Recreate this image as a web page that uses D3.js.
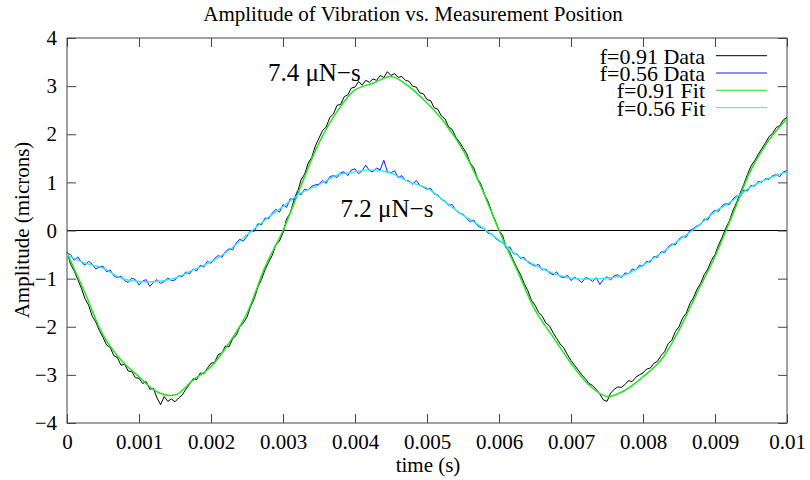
<!DOCTYPE html>
<html>
<head>
<meta charset="utf-8">
<script src="https://cdn.jsdelivr.net/npm/d3@7"></script>
<style>
  body { margin: 0; background: #fff; }
  text { font-family: "Liberation Serif", "Times New Roman", serif; fill: #000; }
</style>
</head>
<body>
<div id="chart"></div>
<script>
// measured samples, every 0.00005 s
var dataStep = 0.00005;
var data91 = [
  -0.45, -0.70, -0.84, -1.02, -1.20, -1.42, -1.55, -1.78, -1.90, -2.08,
  -2.22, -2.38, -2.43, -2.60, -2.64, -2.80, -2.78, -2.92, -2.93, -3.06,
  -3.07, -3.18, -3.14, -3.30, -3.28, -3.48, -3.62, -3.45, -3.55, -3.50,
  -3.56, -3.48, -3.42, -3.30, -3.20, -3.08, -3.10, -2.96, -2.98, -2.86,
  -2.76, -2.74, -2.58, -2.55, -2.40, -2.42, -2.25, -2.18, -2.00, -1.92,
  -1.80, -1.58, -1.42, -1.18, -1.02, -0.82, -0.66, -0.52, -0.30, -0.22,
  -0.05, 0.24, 0.36, 0.62, 0.78, 1.05, 1.17, 1.40, 1.52, 1.76,
  1.92, 2.08, 2.15, 2.35, 2.42, 2.60, 2.62, 2.78, 2.82, 2.96,
  2.98, 3.10, 3.02, 3.12, 3.08, 3.15, 3.12, 3.22, 3.18, 3.30,
  3.22, 3.26, 3.18, 3.20, 3.12, 3.10, 3.00, 2.98, 2.86, 2.84,
  2.72, 2.70, 2.55, 2.52, 2.38, 2.32, 2.15, 2.10, 1.94, 1.84,
  1.72, 1.60, 1.40, 1.30, 1.08, 0.96, 0.74, 0.60, 0.38, 0.20,
  0.00, -0.10, -0.36, -0.45, -0.62, -0.78, -0.92, -1.10, -1.25, -1.45,
  -1.55, -1.70, -1.78, -1.92, -1.98, -2.12, -2.24, -2.36, -2.44, -2.58,
  -2.70, -2.80, -2.90, -3.00, -3.08, -3.18, -3.22, -3.30, -3.40, -3.52,
  -3.55, -3.38, -3.30, -3.25, -3.26, -3.20, -3.12, -3.14, -3.05, -3.00,
  -2.96, -2.88, -2.86, -2.76, -2.72, -2.60, -2.52, -2.35, -2.28, -2.10,
  -2.00, -1.82, -1.72, -1.52, -1.40, -1.22, -1.10, -0.92, -0.80, -0.62,
  -0.50, -0.30, -0.14, 0.05, 0.20, 0.42, 0.58, 0.78, 0.96, 1.16,
  1.34, 1.45, 1.58, 1.70, 1.82, 1.95, 2.02, 2.14, 2.18, 2.30,
  2.35
];
var data56 = [
  -0.47, -0.50, -0.62, -0.55, -0.66, -0.72, -0.64, -0.70, -0.80, -0.76,
  -0.74, -0.86, -0.82, -0.94, -0.98, -0.95, -1.04, -1.08, -0.99, -1.02,
  -1.13, -1.05, -1.02, -1.16, -1.08, -1.02, -1.10, -1.06, -0.99, -1.04,
  -1.03, -0.94, -0.96, -0.86, -0.90, -0.80, -0.84, -0.72, -0.76, -0.64,
  -0.68, -0.58, -0.52, -0.56, -0.44, -0.38, -0.40, -0.26, -0.18, -0.22,
  -0.12, 0.00, -0.02, 0.14, 0.12, 0.26, 0.24, 0.36, 0.44, 0.38,
  0.54, 0.48, 0.66, 0.64, 0.82, 0.74, 0.86, 0.84, 0.92, 0.95,
  0.96, 1.04, 0.98, 1.12, 1.14, 1.10, 1.20, 1.22, 1.14, 1.26,
  1.28, 1.18, 1.24, 1.36, 1.24, 1.22, 1.30, 1.26, 1.46, 1.22,
  1.20, 1.24, 1.10, 1.14, 1.04, 1.03, 0.96, 1.04, 0.94, 0.90,
  0.86, 0.88, 0.76, 0.74, 0.64, 0.62, 0.52, 0.54, 0.42, 0.36,
  0.34, 0.25, 0.18, 0.22, 0.10, 0.06, 0.04, -0.06, -0.07, -0.16,
  -0.22, -0.24, -0.36, -0.34, -0.48, -0.49, -0.58, -0.56, -0.66, -0.70,
  -0.74, -0.70, -0.82, -0.80, -0.88, -0.92, -0.86, -0.96, -0.98, -0.93,
  -1.04, -0.97, -1.02, -1.08, -0.98, -1.00, -1.06, -0.98, -1.12, -1.02,
  -0.96, -1.03, -0.94, -0.92, -0.98, -0.88, -0.90, -0.80, -0.82, -0.72,
  -0.74, -0.64, -0.66, -0.54, -0.56, -0.44, -0.46, -0.34, -0.28, -0.30,
  -0.18, -0.12, -0.14, 0.00, 0.04, 0.10, 0.12, 0.24, 0.22, 0.36,
  0.42, 0.40, 0.52, 0.56, 0.54, 0.66, 0.72, 0.70, 0.84, 0.82,
  0.94, 0.92, 1.02, 1.00, 1.08, 1.06, 1.14, 1.16, 1.12, 1.22,
  1.24
];

// fitted curves, every 0.00025 s
var fitStep = 0.00025;
var fit91 = [-0.47, -1.30, -2.17, -2.69, -3.04, -3.35, -3.42, -3.11, -2.83, -2.34,
  -1.72, -0.76, 0.00, 0.93, 1.82, 2.47, 2.92, 3.06, 3.20, 2.99,
  2.65, 2.23, 1.67, 0.91, 0.00, -0.82, -1.65, -2.21, -2.76, -3.21,
  -3.45, -3.32, -3.04, -2.69, -2.07, -1.30, -0.54, 0.35, 1.26, 1.88, 2.32];
var fit56 = [-0.51, -0.68, -0.78, -0.99, -1.06, -1.06, -0.99, -0.82, -0.65, -0.41,
  -0.09, 0.22, 0.50, 0.78, 0.95, 1.15, 1.22, 1.26, 1.19, 1.01,
  0.88, 0.60, 0.32, 0.08, -0.20, -0.51, -0.72, -0.89, -0.99, -1.01,
  -0.99, -0.92, -0.72, -0.47, -0.20, 0.08, 0.39, 0.63, 0.91, 1.09, 1.22];

var xTicks = [0, 0.001, 0.002, 0.003, 0.004, 0.005, 0.006, 0.007, 0.008, 0.009, 0.01];
var xTickLabels = ["0", "0.001", "0.002", "0.003", "0.004", "0.005", "0.006", "0.007", "0.008", "0.009", "0.01"];
var yTicks = [-4, -3, -2, -1, 0, 1, 2, 3, 4];

var seriesNames = ["f=0.91 Data", "f=0.56 Data", "f=0.91 Fit", "f=0.56 Fit"];
var seriesColors = ["#000000", "#1a1aff", "#1ee61e", "#22f0f0"];
var labels = [
  {text: "7.4 \u03bcN\u2212s", t: 0.00279, a: 3.1},
  {text: "7.2 \u03bcN\u2212s", t: 0.00380, a: 0.29}
];

var width = 810, height = 480;
var margin = {top: 38, right: 23, bottom: 57, left: 67};

var svg = d3.select('#chart').append('svg')
  .attr('width', width)
  .attr('height', height);

var x = d3.scaleLinear().domain([0, 0.01]).range([margin.left, width - margin.right]);
var y = d3.scaleLinear().domain([-4, 4]).range([height - margin.bottom, margin.top]);

// title
svg.append('text')
  .attr('x', 413)
  .attr('y', 21)
  .attr('text-anchor', 'middle')
  .style('font-size', '21px')
  .text('Amplitude of Vibration vs. Measurement Position');

// zero line
svg.append('line')
  .attr('x1', x(0)).attr('x2', x(0.01))
  .attr('y1', y(0)).attr('y2', y(0))
  .attr('stroke', '#000')
  .attr('stroke-width', 1);

// axes (ticks point inward, mirrored on top/right)
var tickLen = 9;
var axisColor = '#444';

var bottomAxis = d3.axisBottom(x).tickValues(xTicks)
  .tickSize(-tickLen).tickPadding(11)
  .tickFormat(function (d, i) { return xTickLabels[i]; });
var topAxis = d3.axisTop(x).tickValues(xTicks).tickSize(-tickLen).tickFormat('');
var leftAxis = d3.axisLeft(y).tickValues(yTicks)
  .tickSize(-tickLen).tickPadding(10)
  .tickFormat(function (d) { return d < 0 ? '\u2212' + Math.abs(d) : String(d); });
var rightAxis = d3.axisRight(y).tickValues(yTicks).tickSize(-tickLen).tickFormat('');

function styleAxis(g) {
  g.select('.domain').remove();
  g.selectAll('line').attr('stroke', axisColor);
  g.selectAll('text')
    .style('font-family', '"Liberation Serif", "Times New Roman", serif')
    .style('font-size', '21px')
    .attr('fill', '#000');
}

svg.append('g').attr('transform', 'translate(0,' + y(-4) + ')').call(bottomAxis).call(styleAxis);
svg.append('g').attr('transform', 'translate(0,' + y(4) + ')').call(topAxis).call(styleAxis);
svg.append('g').attr('transform', 'translate(' + x(0) + ',0)').call(leftAxis).call(styleAxis);
svg.append('g').attr('transform', 'translate(' + x(0.01) + ',0)').call(rightAxis).call(styleAxis);

svg.append('rect')
  .attr('x', x(0)).attr('y', y(4))
  .attr('width', x(0.01) - x(0))
  .attr('height', y(-4) - y(4))
  .attr('fill', 'none')
  .attr('stroke', axisColor)
  .attr('stroke-width', 1);

// axis titles
svg.append('text')
  .attr('x', 428)
  .attr('y', 472)
  .attr('text-anchor', 'middle')
  .style('font-size', '21px')
  .text('time (s)');

svg.append('text')
  .attr('transform', 'translate(29,230)rotate(-90)')
  .attr('text-anchor', 'middle')
  .style('font-size', '21px')
  .text('Amplitude (microns)');

// curves
var lineData = d3.line()
  .x(function (d, i) { return x(i * dataStep); })
  .y(function (d) { return y(d); });
var lineFit = d3.line()
  .x(function (d, i) { return x(i * fitStep); })
  .y(function (d) { return y(d); })
  .curve(d3.curveCatmullRom);

var curves = [
  {values: data91, gen: lineData, w: 1},
  {values: data56, gen: lineData, w: 1},
  {values: fit91, gen: lineFit, w: 1.5},
  {values: fit56, gen: lineFit, w: 1.3}
];

svg.selectAll('path.curve')
  .data(curves)
  .enter().append('path')
  .attr('class', 'curve')
  .attr('d', function (d) { return d.gen(d.values); })
  .attr('fill', 'none')
  .attr('stroke', function (d, i) { return seriesColors[i]; })
  .attr('stroke-width', function (d) { return d.w; })
  .attr('stroke-linejoin', 'round');

// annotations
svg.selectAll('text.note')
  .data(labels)
  .enter().append('text')
  .attr('class', 'note')
  .attr('x', function (d) { return x(d.t); })
  .attr('y', function (d) { return y(d.a); })
  .style('font-size', '25px')
  .text(function (d) { return d.text; });

// legend
var legend = svg.selectAll('g.legend')
  .data(seriesNames)
  .enter().append('g')
  .attr('class', 'legend')
  .attr('transform', function (d, i) { return 'translate(0,' + (55.7 + i * 17.3) + ')'; });

legend.append('text')
  .attr('x', 705)
  .attr('y', 8)
  .attr('text-anchor', 'end')
  .style('font-size', '22px')
  .text(function (d) { return d; });

legend.append('line')
  .attr('x1', 716).attr('x2', 767)
  .attr('y1', 0).attr('y2', 0)
  .attr('stroke', function (d, i) { return seriesColors[i]; })
  .attr('stroke-width', 1);
</script>
</body>
</html>
